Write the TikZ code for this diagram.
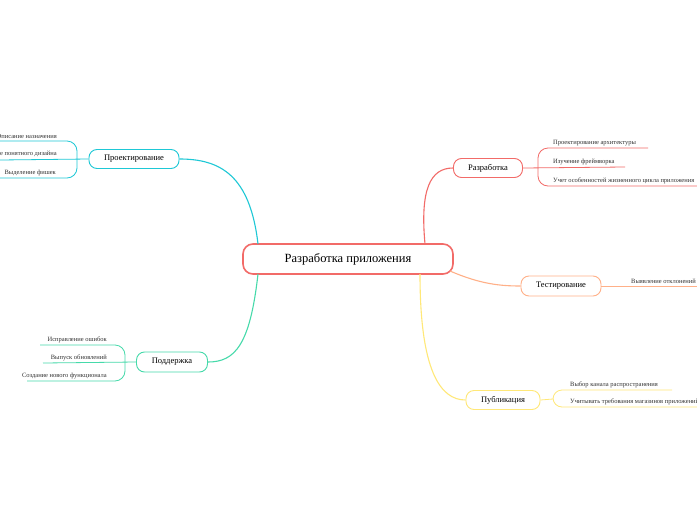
\documentclass[tikz,border=0pt]{standalone}
\usepackage{fontspec}
\setmainfont{Liberation Serif}
\usetikzlibrary{positioning}
\definecolor{cred}{HTML}{F26B68}
\definecolor{ccyan}{HTML}{1EC8D6}
\definecolor{corange}{HTML}{FFB088}
\definecolor{cyellow}{HTML}{FFE878}
\definecolor{cgreen}{HTML}{46DAAA}
\tikzset{
  topic/.style={draw=#1,rounded corners=8pt,fill=white,line width=0.9pt,inner sep=0pt,font=\fontsize{8.5}{10}\selectfont},
  leaf/.style={inner sep=1pt,font=\fontsize{6.5}{8}\selectfont,text=black!80},
  link/.style={draw=#1,line width=1.1pt},
}
\begin{document}
\begin{tikzpicture}[x=1pt,y=-1pt]
\useasboundingbox (0,0) rectangle (697,520);
\clip (0,0) rectangle (697,520);
\fill[white] (0,0) rectangle (697,520);

% main topics
\node[topic=cred,line width=1.6pt,rounded corners=10pt,minimum width=210pt,minimum height=30pt,font=\fontsize{12.5}{14}\selectfont] (root) at (348,259) {Разработка приложения};
\node[topic=ccyan,minimum width=90pt,minimum height=19pt] (design) at (134,159) {Проектирование};
\node[topic=cred,minimum width=69pt,minimum height=19pt] (dev) at (488,168) {Разработка};
\node[topic=corange,minimum width=80pt,minimum height=20pt] (test) at (561,286) {Тестирование};
\node[topic=cyellow,minimum width=74pt,minimum height=19pt] (pub) at (503,400) {Публикация};
\node[topic=cgreen,minimum width=71pt,minimum height=20pt] (supp) at (172,362) {Поддержка};

% links to root
\begin{scope}[on background layer/.style={}]
\draw[link=ccyan] (258,244) .. controls (250,175) and (220,159) .. (design.east);
\draw[link=cgreen] (258,274) .. controls (250,345) and (235,362) .. (supp.east);
\draw[link=cred] (425,244) .. controls (420,190) and (430,168) .. (dev.west);
\draw[link=corange] (450,271) .. controls (480,284) and (500,286) .. (test.west);
\draw[link=cyellow] (420,274) .. controls (420,370) and (440,400) .. (pub.west);
\end{scope}

% Проектирование
\coordinate (d1) at (0,141); \coordinate (d2) at (0,160); \coordinate (d3) at (0,178);
\draw[link=ccyan,line width=0.8pt,rounded corners=10pt] (d1) -- (77,141) -- (77,178) -- (d3);
\draw[link=ccyan,line width=0.8pt] (d2) -- (design.west);
\node[leaf,anchor=south east] at (58,140) {Описание назначения};
\node[leaf,anchor=south east] at (58,158) {Создание понятного дизайна};
\node[leaf,anchor=south east] at (57,177) {Выделение фишек};

% Разработка
\coordinate (r1) at (648,148); \coordinate (r2) at (625,167); \coordinate (r3) at (697,186);
\draw[link=cred,line width=0.8pt,rounded corners=10pt] (r1) -- (538,148) -- (538,186) -- (r3);
\draw[link=cred,line width=0.8pt] (dev.east) -- (r2);
\node[leaf,anchor=south west] at (552,147) {Проектирование архитектуры};
\node[leaf,anchor=south west] at (552,166) {Изучение фреймворка};
\node[leaf,anchor=south west] at (552,185) {Учет особенностей жизненного цикла приложения};

% Тестирование
\coordinate (t1) at (697,286);
\draw[link=corange,line width=0.8pt] (test.east) -- (t1);
\node[leaf,anchor=south west] at (630,285) {Выявление отклонений};

% Публикация
\coordinate (p1) at (672,390); \coordinate (p2) at (697,407);
\draw[link=cyellow,line width=0.8pt,rounded corners=9pt] (p1) -- (553,390) -- (553,407) -- (p2);
\draw[link=cyellow,line width=0.8pt] (pub.east) -- (553,399);
\node[leaf,anchor=south west] at (569,389) {Выбор канала распространения};
\node[leaf,anchor=south west] at (569,406) {Учитывать требования магазинов приложений};

% Поддержка
\coordinate (s1) at (40,345); \coordinate (s2) at (43,363); \coordinate (s3) at (27,381);
\draw[link=cgreen,line width=0.8pt,rounded corners=10pt] (s1) -- (125,345) -- (125,381) -- (s3);
\draw[link=cgreen,line width=0.8pt] (s2) -- (supp.west);
\node[leaf,anchor=south east] at (108,344) {Исправление ошибок};
\node[leaf,anchor=south east] at (108,362) {Выпуск обновлений};
\node[leaf,anchor=south east] at (108,380) {Создание нового функционала};
\end{tikzpicture}
\end{document}
